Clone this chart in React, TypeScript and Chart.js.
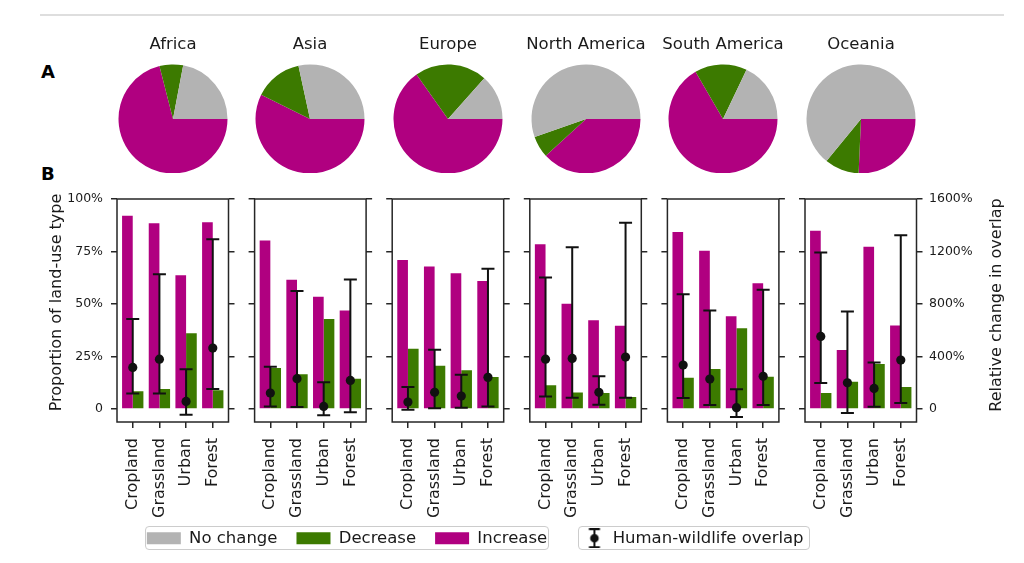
import React, { useEffect, useRef } from 'react';
import { Chart, registerables } from 'chart.js';

Chart.register(...registerables);
Chart.defaults.font.family = "'DejaVu Sans', sans-serif";
Chart.defaults.color = '#1a1a1a';

// ---------- data ----------
const regions = ['Africa', 'Asia', 'Europe', 'North America', 'South America', 'Oceania'];
const landUses = ['Cropland', 'Grassland', 'Urban', 'Forest'];
const pieLabels = ['No change', 'Decrease', 'Increase'];

// Panel A: share of area (%) per region
const pieNoChange = [22.0, 28.4, 13.4, 55.4, 17.9, 64.1];
const pieDecrease = [7.0, 14.3, 21.4, 6.4, 15.5, 10.2];
const pieIncrease = [71.0, 57.3, 65.2, 38.2, 66.6, 25.7];

// Panel B: proportion of land-use type (%) per region, order = landUses
const increaseAfrica = [92.0, 88.4, 63.7, 88.9];
const increaseAsia = [80.2, 61.6, 53.4, 46.9];
const increaseEurope = [71.0, 67.8, 64.7, 60.9];
const increaseNorthAmerica = [78.4, 50.1, 42.3, 39.6];
const increaseSouthAmerica = [84.3, 75.4, 44.2, 59.9];
const increaseOceania = [84.9, 28.1, 77.3, 39.8];

const decreaseAfrica = [8.4, 9.5, 36.1, 8.9];
const decreaseAsia = [19.5, 16.6, 42.8, 14.4];
const decreaseEurope = [28.7, 20.6, 18.4, 15.2];
const decreaseNorthAmerica = [11.3, 7.9, 7.6, 5.7];
const decreaseSouthAmerica = [14.9, 19.0, 38.5, 15.4];
const decreaseOceania = [7.6, 13.0, 21.4, 10.5];

// Relative change in human-wildlife overlap (%): median, lower and upper bound
const overlapMedian = [
  [317, 380, 58, 464],
  [122, 231, 20, 218],
  [53, 127, 99, 241],
  [380, 385, 127, 396],
  [335, 228, 10, 249],
  [553, 200, 157, 373],
];
const overlapLow = [
  [119, 119, -43, 152],
  [20, 15, -48, -25],
  [-5, 5, 10, 20],
  [96, 86, 33, 86],
  [84, 30, -61, 30],
  [198, -30, 18, 46],
];
const overlapHigh = [
  [685, 1027, 302, 1293],
  [322, 900, 203, 987],
  [167, 451, 261, 1068],
  [1002, 1232, 249, 1420],
  [875, 751, 150, 908],
  [1192, 743, 355, 1324],
];

const leftTicks = [0, 25, 50, 75, 100];
const rightTicks = [0, 400, 800, 1200, 1600];

const increaseProp = [increaseAfrica, increaseAsia, increaseEurope, increaseNorthAmerica, increaseSouthAmerica, increaseOceania];
const decreaseProp = [decreaseAfrica, decreaseAsia, decreaseEurope, decreaseNorthAmerica, decreaseSouthAmerica, decreaseOceania];

// ---------- style ----------
const GRAY = '#b3b3b3';
const GREEN = '#3c7a00';
const MAGENTA = '#b00080';
const INK = '#111111';
const AXIS = '#262626';
const TEXT = '#1a1a1a';

const PANEL_X0 = 117;
const PANEL_PITCH = 137.6;
const PANEL_W = 111.5;
const PANEL_TOP = 199;
const PANEL_H = 223;
const CANVAS_TOP = 179;
const CANVAS_H = 340;
const PAD_TOP = PANEL_TOP - CANVAS_TOP;
const X_AXIS_H = CANVAS_H - PAD_TOP - PANEL_H;
const Y_MIN = -6.19;
const Y_MAX = 100;
const Y2_MIN = -99;
const Y2_MAX = 1600;

const pctLabel = (v: any) => (Number(v) === 0 ? '0' : `${v}%`);

const framePlugin = {
  id: 'frame',
  afterDraw(chart: any) {
    const { ctx, chartArea: a } = chart;
    ctx.save();
    ctx.strokeStyle = AXIS;
    ctx.lineWidth = 1.5;
    ctx.strokeRect(a.left, a.top, a.right - a.left, a.bottom - a.top);
    ctx.restore();
  },
};

const sideTitlesPlugin = {
  id: 'sideTitles',
  afterDraw(chart: any, _args: any, opts: any) {
    const a = chart.chartArea;
    const ctx = chart.ctx;
    const items = (opts && opts.items) || [];
    items.forEach((it: any) => {
      const x = it.side === 'left' ? a.left - it.dx : a.right + it.dx;
      const y = (a.top + a.bottom) / 2 + it.dy;
      ctx.save();
      ctx.translate(x, y);
      ctx.rotate(-Math.PI / 2);
      ctx.font = `${it.size}px 'DejaVu Sans', sans-serif`;
      ctx.fillStyle = TEXT;
      ctx.textAlign = 'center';
      ctx.textBaseline = 'middle';
      ctx.fillText(it.text, 0, 0);
      ctx.restore();
    });
  },
};

function panelGeom(i: number) {
  const L = PANEL_X0 + i * PANEL_PITCH;
  const left = Math.round(L) - 90;
  const padL = L - left;
  const width = Math.ceil(padL + PANEL_W + 100);
  const padR = width - padL - PANEL_W;
  return { left, padL, width, padR };
}

function panelConfig(i: number) {
  const { padL, padR } = panelGeom(i);
  const pts = (arr: number[]) => arr.map((v, k) => ({ x: k, y: v }));
  const titles: any[] = [];
  if (i === 0) titles.push({ side: 'left', text: 'Proportion of land-use type', dx: 60, dy: -8, size: 16 });
  if (i === regions.length - 1) titles.push({ side: 'right', text: 'Relative change in overlap', dx: 80.5, dy: -5.5, size: 16 });
  const tickGrid = { drawOnChartArea: false, drawTicks: true, tickLength: 6, color: AXIS, lineWidth: 1.5, offset: false };
  return {
    type: 'bar',
    data: {
      datasets: [
        {
          type: 'bar', label: 'Increase', data: pts(increaseProp[i]), yAxisID: 'y',
          backgroundColor: MAGENTA, borderWidth: 0, categoryPercentage: 0.8, barPercentage: 1, order: 4,
        },
        {
          type: 'bar', label: 'Decrease', data: pts(decreaseProp[i]), yAxisID: 'y',
          backgroundColor: GREEN, borderWidth: 0, categoryPercentage: 0.8, barPercentage: 1, order: 5,
        },
        {
          type: 'bar', label: 'Overlap range', yAxisID: 'y2', grouped: false, maxBarThickness: 2,
          data: landUses.map((_, k) => ({ x: k, y: [overlapLow[i][k], overlapHigh[i][k]] })),
          backgroundColor: INK, borderWidth: 0, order: 2,
        },
        {
          type: 'line', label: 'Lower bound', data: pts(overlapLow[i]), yAxisID: 'y2', showLine: false,
          pointStyle: 'line', pointRadius: 6.5, pointBorderWidth: 2, pointBorderColor: INK, order: 1,
        },
        {
          type: 'line', label: 'Upper bound', data: pts(overlapHigh[i]), yAxisID: 'y2', showLine: false,
          pointStyle: 'line', pointRadius: 6.5, pointBorderWidth: 2, pointBorderColor: INK, order: 1,
        },
        {
          type: 'line', label: 'Human-wildlife overlap', data: pts(overlapMedian[i]), yAxisID: 'y2', showLine: false,
          pointStyle: 'circle', pointRadius: 4.6, pointBackgroundColor: INK, pointBorderWidth: 0, order: 0,
        },
      ],
    },
    options: {
      responsive: false,
      animation: false,
      events: [],
      layout: { padding: { top: PAD_TOP, left: 0, right: 0, bottom: 0 } },
      plugins: {
        legend: { display: false },
        tooltip: { enabled: false },
        sideTitles: { items: titles },
      },
      scales: {
        x: {
          type: 'linear', min: -0.59, max: 3.59, offset: false,
          afterBuildTicks: (s: any) => { s.ticks = landUses.map((_, k) => ({ value: k })); },
          afterFit: (s: any) => { s.height = X_AXIS_H; },
          ticks: {
            autoSkip: false, minRotation: 90, maxRotation: 90, padding: 10,
            font: { size: 16 }, color: TEXT,
            callback: (v: any) => landUses[Number(v)],
          },
          grid: tickGrid,
          border: { display: false },
        },
        y: {
          type: 'linear', position: 'left', min: Y_MIN, max: Y_MAX,
          afterBuildTicks: (s: any) => { s.ticks = leftTicks.map((v) => ({ value: v })); },
          afterFit: (s: any) => { s.width = padL; },
          ticks: { display: i === 0, padding: 8, font: { size: 12.5 }, color: TEXT, callback: pctLabel },
          grid: tickGrid,
          border: { display: false },
        },
        y2: {
          type: 'linear', position: 'right', min: Y2_MIN, max: Y2_MAX,
          afterBuildTicks: (s: any) => { s.ticks = rightTicks.map((v) => ({ value: v })); },
          afterFit: (s: any) => { s.width = padR; },
          ticks: { display: i === regions.length - 1, padding: 6.5, font: { size: 12.5 }, color: TEXT, callback: pctLabel },
          grid: tickGrid,
          border: { display: false },
        },
      },
    },
    plugins: [framePlugin, sideTitlesPlugin],
  };
}

function pieConfig(i: number) {
  return {
    type: 'pie',
    data: {
      labels: [...pieLabels].reverse(),
      datasets: [
        {
          data: [pieIncrease[i], pieDecrease[i], pieNoChange[i]],
          backgroundColor: [MAGENTA, GREEN, GRAY],
          borderWidth: 0,
        },
      ],
    },
    options: {
      responsive: false,
      animation: false,
      events: [],
      rotation: 90,
      radius: 54.5,
      layout: { padding: 0 },
      plugins: {
        legend: { display: false },
        tooltip: { enabled: false },
        title: {
          display: true, text: regions[i], color: TEXT,
          font: { size: 16.5, weight: 'normal' },
          padding: { top: 5, bottom: 10 },
        },
      },
    },
  };
}

function landLegendConfig() {
  const colors = [GRAY, GREEN, MAGENTA];
  return {
    type: 'bar',
    data: {
      labels: [],
      datasets: pieLabels.map((l, k) => ({ label: l, data: [], backgroundColor: colors[k], borderWidth: 0 })),
    },
    options: {
      responsive: false,
      animation: false,
      events: [],
      scales: { x: { display: false }, y: { display: false } },
      plugins: {
        tooltip: { enabled: false },
        legend: {
          display: true, position: 'top',
          labels: { boxWidth: 34, boxHeight: 12, padding: 19, font: { size: 16.5 }, color: TEXT },
        },
      },
    },
  };
}

function makeErrorIcon() {
  const c = document.createElement('canvas');
  c.width = 14;
  c.height = 20;
  const g = c.getContext('2d')!;
  g.strokeStyle = INK;
  g.fillStyle = INK;
  g.lineWidth = 2;
  g.beginPath();
  g.moveTo(7, 1); g.lineTo(7, 19);
  g.moveTo(1.5, 1); g.lineTo(12.5, 1);
  g.moveTo(1.5, 19); g.lineTo(12.5, 19);
  g.stroke();
  g.beginPath();
  g.arc(7, 10, 4.3, 0, Math.PI * 2);
  g.fill();
  return c;
}

function overlapLegendConfig() {
  const icon = makeErrorIcon();
  return {
    type: 'bar',
    data: { labels: [], datasets: [{ label: 'Human-wildlife overlap', data: [], backgroundColor: INK }] },
    options: {
      responsive: false,
      animation: false,
      events: [],
      scales: { x: { display: false }, y: { display: false } },
      plugins: {
        tooltip: { enabled: false },
        legend: {
          display: true, position: 'top',
          labels: {
            usePointStyle: true, pointStyleWidth: 20, padding: 10, font: { size: 16.5 }, color: TEXT,
            generateLabels: () => [{
              text: 'Human-wildlife overlap', pointStyle: icon, fillStyle: INK, strokeStyle: INK,
              lineWidth: 0, hidden: false, datasetIndex: 0, fontColor: TEXT,
            }],
          },
        },
      },
    },
  };
}

function ChartCanvas({ x, y, w, h, make }: { x: number; y: number; w: number; h: number; make: () => any }) {
  const ref = useRef<HTMLCanvasElement>(null);
  useEffect(() => {
    const chart = new Chart(ref.current as HTMLCanvasElement, make());
    return () => chart.destroy();
  }, []);
  return (
    <canvas
      ref={ref}
      width={w}
      height={h}
      style={{ position: 'absolute', left: x, top: y, width: w, height: h }}
    />
  );
}

export default function App() {
  const panelLetter: React.CSSProperties = {
    position: 'absolute', left: 41, fontFamily: "'DejaVu Sans', sans-serif",
    fontWeight: 'bold', fontSize: 18, lineHeight: '18px', color: '#000',
  };
  const legendBox: React.CSSProperties = {
    position: 'absolute', top: 526, height: 24, boxSizing: 'border-box',
    border: '1px solid #cccccc', borderRadius: 4, background: '#fff',
  };
  return (
    <div style={{ position: 'absolute', left: 0, top: 0, width: 1024, height: 563, background: '#fff', overflow: 'hidden' }}>
      <div style={{ position: 'absolute', left: 40, top: 14, width: 964, height: 1.5, background: '#dedede' }} />
      <div style={{ ...panelLetter, top: 63 }}>A</div>
      <div style={{ ...panelLetter, top: 165 }}>B</div>
      <div style={{ ...legendBox, left: 145, width: 404 }} />
      <div style={{ ...legendBox, left: 578, width: 232 }} />
      {regions.map((r, i) => {
        const cx = PANEL_X0 + i * PANEL_PITCH + PANEL_W / 2;
        return <ChartCanvas key={'pie-' + r} x={Math.round(cx) - 75} y={30} w={150} h={143} make={() => pieConfig(i)} />;
      })}
      {regions.map((r, i) => {
        const g = panelGeom(i);
        return <ChartCanvas key={'bar-' + r} x={g.left} y={CANVAS_TOP} w={g.width} h={CANVAS_H} make={() => panelConfig(i)} />;
      })}
      <ChartCanvas x={107} y={511} w={480} h={140} make={landLegendConfig} />
      <ChartCanvas x={574} y={520} w={240} h={100} make={overlapLegendConfig} />
    </div>
  );
}
